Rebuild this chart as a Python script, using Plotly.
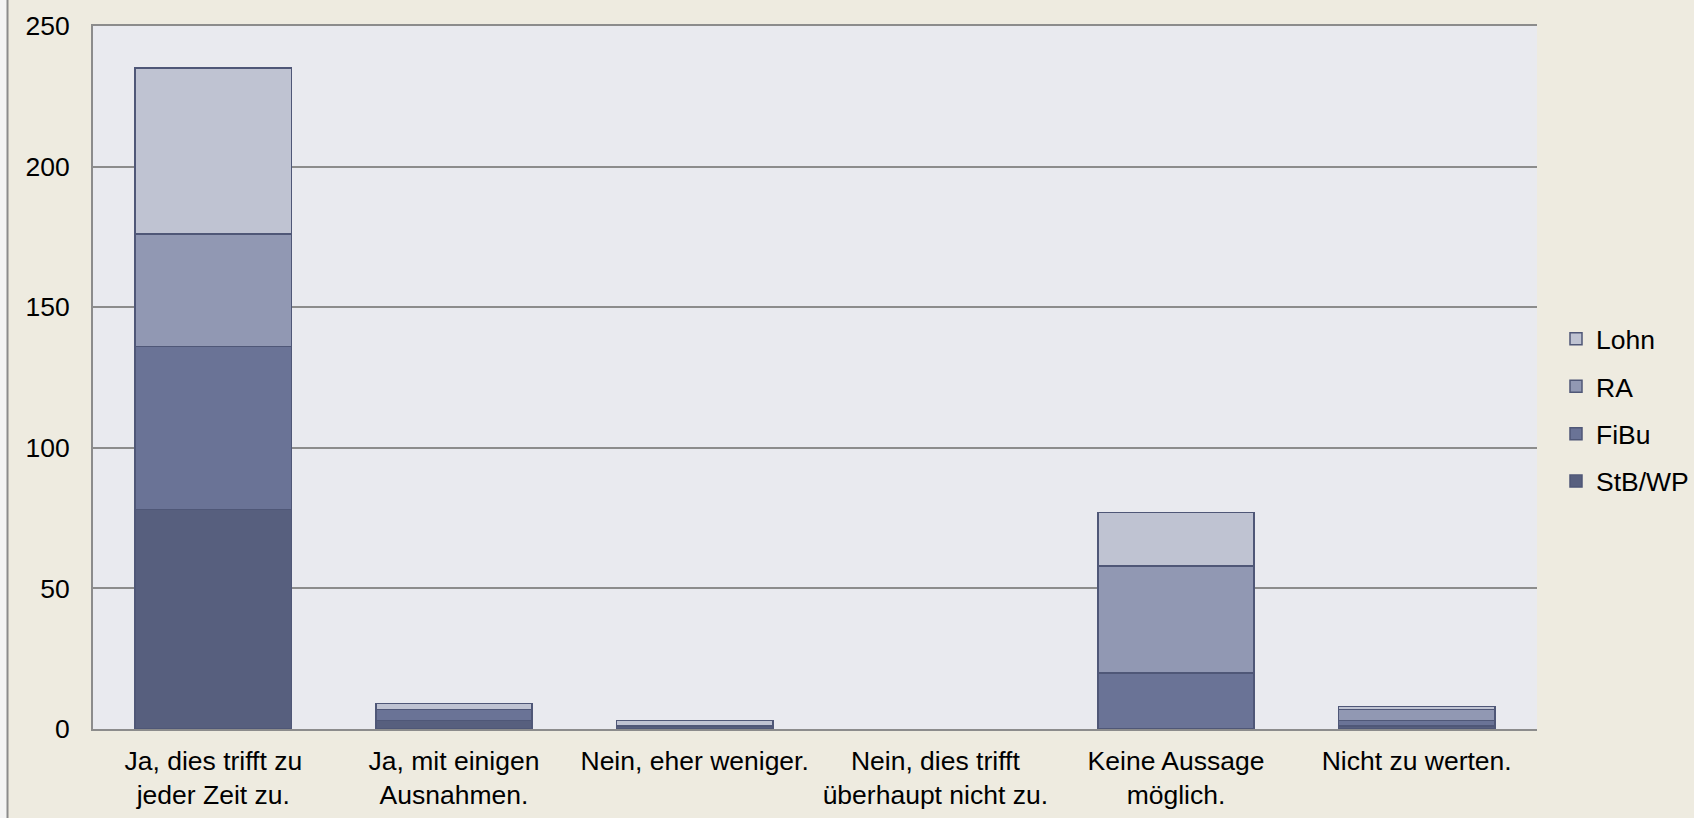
import plotly.graph_objects as go

categories = ["Ja, dies trifft zu<br>jeder Zeit zu.", "Ja, mit einigen<br>Ausnahmen.",
              "Nein, eher weniger.", "Nein, dies trifft<br>überhaupt nicht zu.",
              "Keine Aussage<br>möglich.", "Nicht zu werten."]
stb_wp = [78, 3, 1, 0, 0, 1]
fibu = [58, 4, 0, 0, 20, 2]
ra = [40, 0, 0, 0, 38, 4]
lohn = [59, 2, 2, 0, 19, 1]
y_ticks = [0, 50, 100, 150, 200, 250]

series = [("StB/WP", stb_wp, "#575F7E", 4), ("FiBu", fibu, "#6A7396", 3),
          ("RA", ra, "#9198B3", 2), ("Lohn", lohn, "#BFC3D2", 1)]

fig = go.Figure()
for name, vals, col, rank in series:
    fig.add_trace(go.Bar(x=categories, y=vals, name=name, legendgroup=name, legendrank=rank,
                         marker=dict(color=col,
                                     line=dict(color="#4F5777",
                                               width=[1.5 if v > 0 else 0 for v in vals]))))

W, H = 1694, 818
L, R, T, B = 93, 157, 26, 89
PW, PH = W - L - R, H - T - B
fig.update_layout(
    width=W, height=H, barmode="stack", bargap=0.35,
    margin=dict(l=L, r=R, t=T, b=B, autoexpand=False),
    paper_bgcolor="#EEEBE0", plot_bgcolor="#E9EAEF",
    font=dict(family="Liberation Sans, Arial, sans-serif", size=26.5, color="#000000"),
    legend=dict(x=(1556 - L) / PW, y=(729 - 410) / PH, xanchor="left", yanchor="middle",
                traceorder="grouped", tracegroupgap=10,
                font=dict(size=26.5), bgcolor="rgba(0,0,0,0)"),
    xaxis=dict(showgrid=False, showline=True, linecolor="#8C8C8C", linewidth=2, mirror=True,
               ticks="", ticklabelstandoff=7),
    yaxis=dict(range=[0, 250], tickvals=y_ticks, showgrid=True, gridcolor="#8C8C8C",
               gridwidth=1.5, showline=True, linecolor="#8C8C8C", linewidth=2,
               zeroline=False, ticks="", ticklabelstandoff=16),
    shapes=[dict(type="rect", xref="paper", yref="paper", layer="below",
                 x0=-L / PW, x1=(7 - L) / PW, y0=-B / PH, y1=(H - B) / PH,
                 fillcolor="#F4F4F4", line=dict(width=0)),
            dict(type="line", xref="paper", yref="paper",
                 x0=(7.5 - L) / PW, x1=(7.5 - L) / PW,
                 y0=-B / PH, y1=(H - B) / PH,
                 line=dict(color="#8C8C8C", width=2))],
)
fig.write_html("out.html", config={"displayModeBar": False},
               post_script="document.body.style.margin='0';document.body.style.overflow='hidden';")
